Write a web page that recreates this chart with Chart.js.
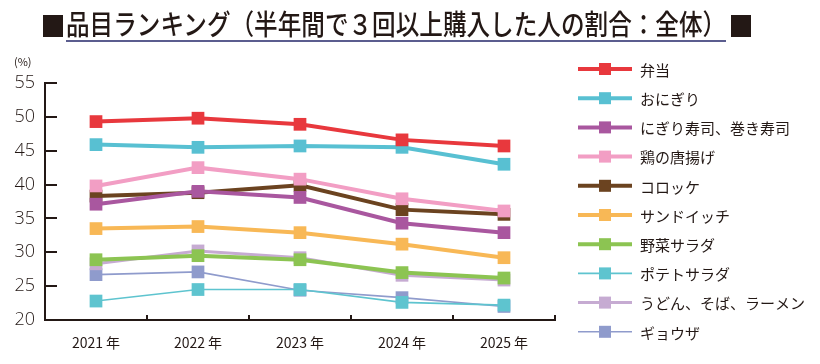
<!DOCTYPE html>
<html>
<head>
<meta charset="utf-8">
<script src="https://cdn.jsdelivr.net/npm/chart.js@4/dist/chart.umd.min.js"></script>
<style>
  body { margin: 0; background: #fff; }
  #wrap { position: relative; width: 820px; height: 364px; overflow: hidden; }
  #chart { position: absolute; left: 0; top: 0; }
  .sq { position: absolute; top: 15px; width: 20px; height: 22px; background: #231815; }
  #title { position: absolute; left: 66px; top: 7px; white-space: nowrap; font-family: "Noto Sans CJK JP"; font-weight: 500; font-size: 28px; line-height: 32px; color: #231815; transform-origin: 0 0; }
  #uline { position: absolute; left: 66px; top: 40px; width: 660px; height: 2px; background: #5b5d8f; }
  #unit { position: absolute; left: 14px; top: 53px; font-family: "Noto Sans CJK JP"; font-size: 11px; color: #231815; }
</style>
</head>
<body>
<div id="wrap">
  <canvas id="chart" width="820" height="364"></canvas>
  <div class="sq" style="left:43px"></div>
  <div id="title">品目ランキング（半年間で３回以上購入した人の割合：全体）</div>
  <div id="uline"></div>
  <div class="sq" style="left:731px"></div>
  <div id="unit">(%)</div>
</div>
<script>
// data
const years = ["2021 年", "2022 年", "2023 年", "2024 年", "2025 年"];
const itemNames = ["弁当", "おにぎり", "にぎり寿司、巻き寿司", "鶏の唐揚げ", "コロッケ",
    "サンドイッチ", "野菜サラダ", "ポテトサラダ", "うどん、そば、ラーメン", "ギョウザ"];
const bento = [49.3, 49.8, 48.9, 46.6, 45.7];
const onigiri = [45.9, 45.5, 45.7, 45.5, 43.0];
const sushi = [37.1, 39.0, 38.1, 34.3, 32.9];
const karaage = [39.8, 42.5, 40.8, 37.9, 36.1];
const korokke = [38.3, 38.8, 39.9, 36.3, 35.6];
const sandwich = [33.5, 33.8, 32.9, 31.2, 29.2];
const yasaiSalad = [28.9, 29.5, 28.9, 27.0, 26.2];
const potatoSalad = [22.8, 24.5, 24.5, 22.6, 22.2];
const udon = [28.3, 30.2, 29.2, 26.6, 25.9];
const gyoza = [26.7, 27.1, 24.4, 23.3, 22.0];
const yTicks = [20, 25, 30, 35, 40, 45, 50, 55];

const seriesValues = [bento, onigiri, sushi, karaage, korokke, sandwich, yasaiSalad, potatoSalad, udon, gyoza];
const colors = ["#e8383d", "#58c0d2", "#a9579f", "#f29ec4", "#6b4320",
    "#f8b856", "#8cc452", "#5ec4cf", "#c6abd2", "#8f9bcc"];
const widths = [4, 4, 4, 4, 4, 4, 4, 1.6, 3, 1.6];

const ink = "#231815";

// squeeze the title text to the underline width
const titleEl = document.getElementById("title");
titleEl.style.transform = "scaleX(" + (660 / titleEl.scrollWidth) + ")";

const innerTicks = {
    id: "innerTicks",
    afterDraw(chart) {
        const c = chart.ctx;
        const x = chart.scales.x, y = chart.scales.y;
        const area = chart.chartArea;
        c.save();
        c.strokeStyle = ink;
        c.lineWidth = 2;
        c.beginPath();
        yTicks.forEach(v => {
            const py = Math.round(y.getPixelForValue(v));
            c.moveTo(area.left, py);
            c.lineTo(area.left + 12, py);
        });
        const step = x.getPixelForValue(1) - x.getPixelForValue(0);
        for (let i = 0; i < years.length; i++) {
            const px = Math.round(x.getPixelForValue(i) + step / 2);
            c.moveTo(px, area.bottom);
            c.lineTo(px, area.bottom - 5);
        }
        c.stroke();

        // legend on the right: line + square marker + label
        chart.data.datasets.forEach((ds, i) => {
            const ly = 69 + i * 29.2;
            c.strokeStyle = ds.borderColor;
            c.lineWidth = ds.borderWidth;
            c.beginPath();
            c.moveTo(578, ly);
            c.lineTo(632, ly);
            c.stroke();
            c.fillStyle = ds.borderColor;
            c.fillRect(599, ly - 6, 12, 12);
            c.fillStyle = ink;
            c.font = "15px 'Noto Sans CJK JP'";
            c.textBaseline = "middle";
            c.fillText(ds.label, 640, ly + 1);
        });
        c.restore();
    }
};

const datasets = itemNames.map((name, i) => ({
    label: name,
    data: seriesValues[i],
    borderColor: colors[i],
    backgroundColor: colors[i],
    borderWidth: widths[i],
    pointStyle: "rect",
    pointRadius: 9,
    pointBorderWidth: 0,
    pointHoverRadius: 9,
    tension: 0
}));

new Chart(document.getElementById("chart"), {
    type: "line",
    data: { labels: years, datasets: datasets },
    options: {
        responsive: false,
        devicePixelRatio: 1,
        animation: false,
        layout: { padding: { top: 83, right: 265, left: 0, bottom: 0 } },
        plugins: { legend: { display: false }, tooltip: { enabled: false } },
        scales: {
            x: {
                offset: true,
                grid: { display: false, drawTicks: false },
                border: { display: true, color: ink, width: 2 },
                ticks: { color: ink, padding: 14, font: { family: "'Noto Sans CJK JP'", size: 14 } },
                afterFit: s => { s.height = 44; }
            },
            y: {
                min: 20,
                max: 55,
                afterBuildTicks: s => { s.ticks = yTicks.map(v => ({ value: v })); },
                grid: { display: false, drawTicks: false },
                border: { display: true, color: ink, width: 2 },
                ticks: { color: ink, padding: 10, font: { family: "'Open Sans'", size: 18, weight: "300" } },
                afterFit: s => { s.width = 45; }
            }
        }
    },
    plugins: [innerTicks]
});
</script>
</body>
</html>
